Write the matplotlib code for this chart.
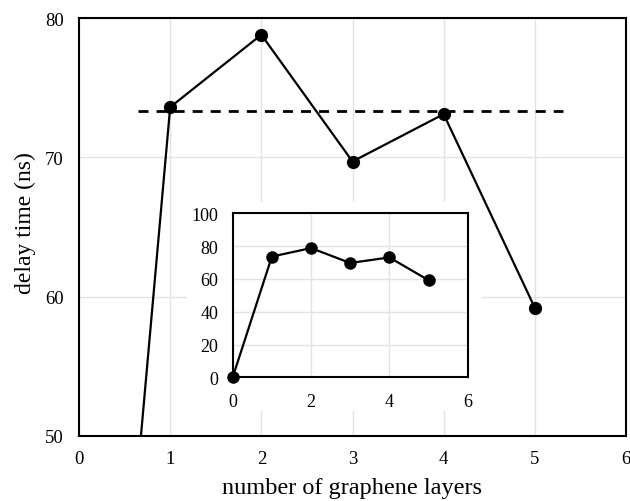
import matplotlib
matplotlib.use("Agg")
import matplotlib.pyplot as plt
from matplotlib.patches import Rectangle

plt.rcParams['font.family'] = ['Liberation Serif', 'DejaVu Serif']

# delay time vs number of graphene layers
layers = [0, 1, 2, 3, 4, 5]
delay = [0, 73.6, 78.8, 69.7, 73.1, 59.2]
ref_x = [0.65, 5.31]
ref_y = [73.35, 73.35]

main_xticks = [0, 1, 2, 3, 4, 5, 6]
main_yticks = [50, 60, 70, 80]
inset_xticks = [0, 2, 4, 6]
inset_yticks = [0, 20, 40, 60, 80, 100]

W, H = 630, 502
fig = plt.figure(figsize=(W / 100, H / 100), dpi=100)

ax = fig.add_axes([79 / W, 1 - 437 / H, 547 / W, 418 / H])
ax.set_axisbelow(True)
ax.grid(True, color='#e3e3e3', linewidth=1.0)
ax.plot(layers, delay, color='black', linewidth=1.6, marker='o',
        markersize=8.5, zorder=3, clip_on=True)
ax.plot(ref_x, ref_y, color='black', linewidth=2.0, linestyle=(0, (3.6, 2.9)), zorder=3)
ax.set_xlim(0, 6)
ax.set_ylim(50, 80)
ax.set_xticks(main_xticks)
ax.set_yticks(main_yticks)
ax.tick_params(length=0, labelsize=13.5, pad=10)
ax.tick_params(axis='y', pad=11)
for s in ax.spines.values():
    s.set_linewidth(1.5)
ax.set_xlabel('number of graphene layers', fontsize=17.5, labelpad=7)
ax.set_ylabel('delay time (ns)', fontsize=17)
ax.yaxis.set_label_coords(-0.0785, 0.513)

# white area behind the inset chart
ax.add_patch(Rectangle((187 / W, 1 - 412 / H), (481.7 - 187) / W, (412 - 203) / H,
                       transform=fig.transFigure, facecolor='white',
                       edgecolor='none', zorder=1))

ins = fig.add_axes([232.7 / W, 1 - 378.3 / H, 235 / W, 164 / H])
ins.set_axisbelow(True)
ins.grid(True, color='#e3e3e3', linewidth=1.0)
ins.plot(layers, delay, color='black', linewidth=1.6, marker='o',
         markersize=8, zorder=3, clip_on=False)
ins.set_xlim(0, 6)
ins.set_ylim(0, 100)
ins.set_xticks(inset_xticks)
ins.set_yticks(inset_yticks)
ins.tick_params(length=0, labelsize=13, pad=10.5)
ins.tick_params(axis='x', pad=11)
for s in ins.spines.values():
    s.set_linewidth(1.5)

fig.savefig('out.png', dpi=100)
